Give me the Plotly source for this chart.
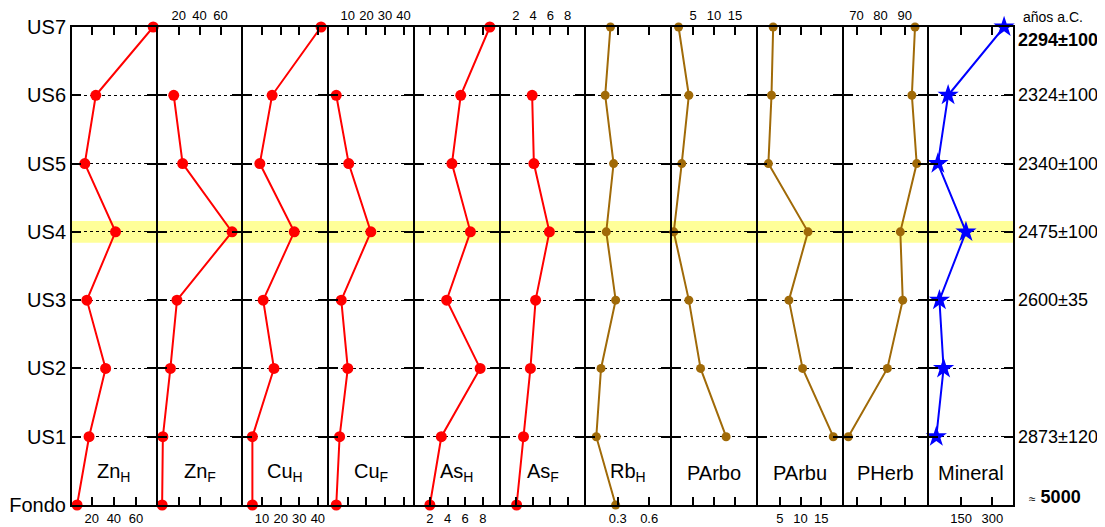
import plotly.graph_objects as go

# ---------------- data ----------------
levels = ["Fondo", "US1", "US2", "US3", "US4", "US5", "US6", "US7"]

panel_names = ["Zn<sub>H</sub>", "Zn<sub>F</sub>", "Cu<sub>H</sub>", "Cu<sub>F</sub>",
               "As<sub>H</sub>", "As<sub>F</sub>", "Rb<sub>H</sub>", "PArbo",
               "PArbu", "PHerb", "Mineral"]

# values ordered as levels (Fondo -> US7); None = no sample
zn_h = [6.6, 17.5, 32.5, 15.5, 41.5, 13.6, 23.6, 75.7]
zn_f = [4.2, 4.9, 12.1, 18.4, 71.0, 23.8, 15.3, None]
cu_h = [4.8, 4.8, 16.4, 10.6, 27.3, 8.8, 15.4, 41.7]
cu_f = [3.8, 5.6, 10.0, 6.5, 22.4, 10.5, 3.8, None]
as_h = [2.0, 3.3, 7.7, 3.9, 6.6, 4.5, 5.5, 8.8]
as_f = [2.1, 2.9, 3.7, 4.3, 5.9, 4.1, 3.9, None]
rb_h = [0.28, 0.095, 0.14, 0.28, 0.19, 0.26, 0.18, 0.23]
parbo = [None, 12.9, 6.8, 4.0, 0.4, 2.3, 4.0, 1.55]
parbu = [None, 17.9, 10.5, 7.2, 11.8, 2.25, 3.0, 3.4]
pherb = [None, 66.6, 82.8, 89.2, 88.2, 95.0, 93.0, 94.3]
mineral = [None, 30, 65, 45, 173, 37.5, 87, 357]

tick_values = [[20, 40, 60], [20, 40, 60], [10, 20, 30, 40], [10, 20, 30, 40],
               [2, 4, 6, 8], [2, 4, 6, 8], [0.3, 0.6], [5, 10, 15],
               [5, 10, 15], [70, 80, 90], [150, 300]]

date_levels = ["US7", "US6", "US5", "US4", "US3", "US1"]
date_labels = ["<b>2294±100</b>", "2324±100", "2340±100", "2475±100", "2600±35", "2873±120"]

# ---------------- style ----------------
series = [zn_h, zn_f, cu_h, cu_f, as_h, as_f, rb_h, parbo, parbu, pherb, mineral]
RED, BROWN, BLUE = "#FF0000", "#A06A08", "#0000FF"
colors = [RED] * 6 + [BROWN] * 4 + [BLUE]
symbols = ["circle"] * 10 + ["star"]
msizes = [11] * 6 + [9] * 4 + [16]
x_ranges = [[2, 78], [0, 80], [0, 45], [0, 45], [0.3, 9.8], [0.25, 9.95],
            [0, 0.8], [0, 20], [-0.3, 19.9], [64.6, 99.4], [-4, 400]]
sides = ["bottom", "top"] * 5 + ["bottom"]
FONT = "Arial, Liberation Sans, sans-serif"

# page body has an 8px margin: size figure so the plot area lands at x 72..1013, y 27..505
W, H = 1097, 519
ML, MR, MT, MB = 64, 92, 19, 22
P = W - ML - MR          # plot width in px
LW = 2                   # frame line width
n = len(series)
pw = (P - (n - 1) * LW) / n

fig = go.Figure()
layout = dict(
    width=W, height=H,
    margin=dict(l=ML, r=MR, t=MT, b=MB, pad=0),
    paper_bgcolor="white", plot_bgcolor="rgba(0,0,0,0)",
    showlegend=False,
    font=dict(family=FONT, color="black"),
)

for i in range(n):
    sfx = "" if i == 0 else str(i + 1)
    d0 = i * (pw + LW) / P
    d1 = min(1.0, d0 + pw / P)
    fig.add_trace(go.Scatter(
        x=series[i], y=levels, mode="lines+markers",
        xaxis="x" + sfx, yaxis="y" + sfx,
        line=dict(color=colors[i], width=2),
        marker=dict(color=colors[i], size=msizes[i], symbol=symbols[i]),
        cliponaxis=False, hoverinfo="skip",
    ))
    layout["xaxis" + sfx] = dict(
        domain=[d0, d1], range=x_ranges[i], anchor="y" + sfx,
        side=sides[i], tickmode="array", tickvals=tick_values[i],
        ticks="inside", ticklen=8, tickwidth=2, tickcolor="black",
        showline=True, linecolor="black", linewidth=LW, mirror="ticks",
        showgrid=False, zeroline=False, automargin=False,
        tickfont=dict(size=13, family=FONT, color="black"),
        fixedrange=True,
    )
    ydict = dict(
        domain=[0, 1], anchor="x" + sfx, type="category",
        categoryorder="array", categoryarray=levels, range=[0, 7],
        ticks="inside", ticklen=9, tickwidth=2, tickcolor="black",
        showline=True, linecolor="black", linewidth=LW, mirror="ticks",
        showgrid=True, gridcolor="black", gridwidth=1, griddash="dot",
        zeroline=False, showticklabels=(i == 0), automargin=False,
        tickfont=dict(size=20, family=FONT, color="black"),
    )
    if i > 0:
        ydict["matches"] = "y"
    layout["yaxis" + sfx] = ydict

fig.update_layout(**layout)

# yellow highlight band on US4
fig.add_shape(type="rect", xref="paper", yref="y", x0=0, x1=1, y0=3.84, y1=4.16,
              fillcolor="#FFFF99", line=dict(width=0), layer="below")

# panel names
for i in range(n):
    sfx = "" if i == 0 else str(i + 1)
    fig.add_annotation(text=panel_names[i], xref="x" + sfx + " domain", x=0.5,
                       yref="y", y=0.47, showarrow=False,
                       font=dict(size=20, family=FONT, color="black"))

# dates on the right
fig.add_annotation(text="años a.C.", xref="paper", x=1, xshift=8, xanchor="left",
                   yref="paper", y=1, yanchor="bottom", yshift=0, showarrow=False,
                   font=dict(size=14, family=FONT, color="black"))
for lev, lab in zip(date_levels, date_labels):
    ya = "top" if lev == "US7" else "middle"
    fig.add_annotation(text=lab, xref="paper", x=1, xshift=3, xanchor="left",
                       yref="y", y=lev, yanchor=ya, yshift=(-1 if lev == "US7" else 0),
                       showarrow=False,
                       font=dict(size=18, family=FONT, color="black"))
fig.add_annotation(text="<span style='font-size:12px'>≈</span> <b>5000</b>",
                   xref="paper", x=1, xshift=14, xanchor="left",
                   yref="y", y="Fondo", yshift=8, yanchor="middle", showarrow=False,
                   font=dict(size=18, family=FONT, color="black"))

fig.write_html("out.html")
